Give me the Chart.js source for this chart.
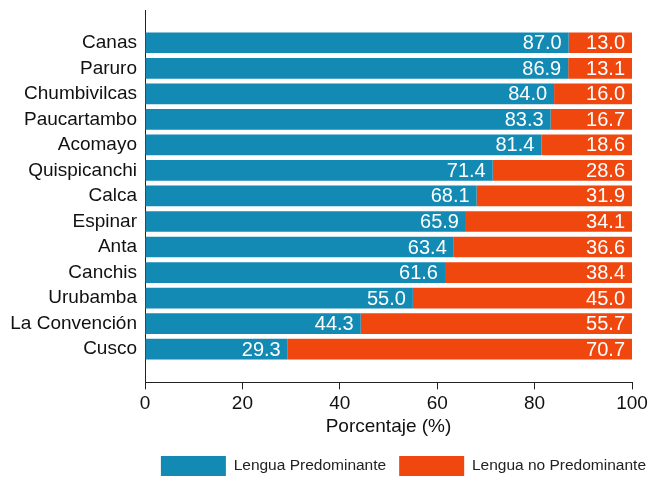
<!DOCTYPE html>
<html>
<head>
<meta charset="utf-8">
<script src="https://cdn.jsdelivr.net/npm/chart.js@4/dist/chart.umd.min.js"></script>
<style>
  html, body { margin: 0; padding: 0; background: #fff; }
  #wrap { width: 651px; height: 479px; }
</style>
</head>
<body>
<div id="wrap"><canvas id="myChart" width="651" height="479"></canvas></div>
<script>
const provincias = ['Canas', 'Paruro', 'Chumbivilcas', 'Paucartambo', 'Acomayo', 'Quispicanchi', 'Calca',
    'Espinar', 'Anta', 'Canchis', 'Urubamba', 'La Convención', 'Cusco'];
const predominante = [87.0, 86.9, 84.0, 83.3, 81.4, 71.4, 68.1, 65.9, 63.4, 61.6, 55.0, 44.3, 29.3];
const noPredominante = [13.0, 13.1, 16.0, 16.7, 18.6, 28.6, 31.9, 34.1, 36.6, 38.4, 45.0, 55.7, 70.7];
const xTicks = [0, 20, 40, 60, 80, 100];

const azul = '#138ab3';
const naranja = '#f0470e';
const fuente = 'Arial, "Liberation Sans", sans-serif';

// etiquetas blancas dentro de cada barra
const etiquetas = {
    id: 'etiquetas',
    afterDatasetsDraw(chart) {
        const ctx = chart.ctx;
        ctx.save();
        ctx.font = '20px ' + fuente;
        ctx.fillStyle = '#fff';
        ctx.textAlign = 'right';
        ctx.textBaseline = 'middle';
        chart.data.datasets.forEach((ds, i) => {
            const meta = chart.getDatasetMeta(i);
            meta.data.forEach((bar, j) => {
                ctx.fillText(ds.data[j].x.toFixed(1), bar.x - 7, bar.y + 1);
            });
        });
        ctx.restore();
    }
};

// la leyenda va corrida a la derecha, como en el original
const moverLeyenda = {
    id: 'moverLeyenda',
    afterLayout(chart) {
        chart.legend.left += 27;
        chart.legend.right += 27;
    }
};

const ctx = document.getElementById('myChart').getContext('2d');
new Chart(ctx, {
    type: 'bar',
    data: {
        datasets: [
            {
                label: 'Lengua Predominante',
                data: predominante.map((v, i) => ({ x: v, y: i })),
                backgroundColor: azul
            },
            {
                label: 'Lengua no Predominante',
                data: noPredominante.map((v, i) => ({ x: v, y: i })),
                backgroundColor: naranja
            }
        ]
    },
    options: {
        indexAxis: 'y',
        responsive: false,
        animation: false,
        barPercentage: 0.81,
        categoryPercentage: 1,
        layout: { padding: { top: 10, right: 19, left: 0, bottom: -7 } },
        plugins: {
            tooltip: { enabled: false },
            legend: {
                position: 'bottom',
                align: 'end',
                labels: {
                    boxWidth: 65,
                    boxHeight: 20,
                    padding: 13,
                    color: '#222',
                    font: { family: fuente, size: 15.5 }
                }
            }
        },
        scales: {
            x: {
                type: 'linear',
                stacked: true,
                min: 0,
                max: 100,
                afterBuildTicks: s => { s.ticks = xTicks.map(v => ({ value: v })); },
                grid: { drawOnChartArea: false, drawTicks: true, tickLength: 7, color: '#222' },
                border: { display: true, color: '#222', width: 1 },
                ticks: { color: '#111', padding: 3, font: { family: fuente, size: 19 } },
                title: {
                    display: true,
                    text: 'Porcentaje (%)',
                    color: '#111',
                    padding: { top: -3, bottom: 5 },
                    font: { family: fuente, size: 19 }
                }
            },
            y: {
                type: 'linear',
                stacked: true,
                reverse: true,
                offset: false,
                min: -1.284,
                max: 13.303,
                afterBuildTicks: s => { s.ticks = provincias.map((p, i) => ({ value: i })); },
                afterFit: s => {
                    s.width = 145;
                    s.paddingTop = 0;
                    s.paddingBottom = 0;
                },
                grid: { drawOnChartArea: false, drawTicks: false },
                border: { display: true, color: '#222', width: 1 },
                ticks: {
                    color: '#111',
                    padding: 8,
                    font: { family: fuente, size: 19 },
                    callback: v => provincias[v] ?? ''
                }
            }
        }
    },
    plugins: [etiquetas, moverLeyenda]
});
</script>
</body>
</html>
